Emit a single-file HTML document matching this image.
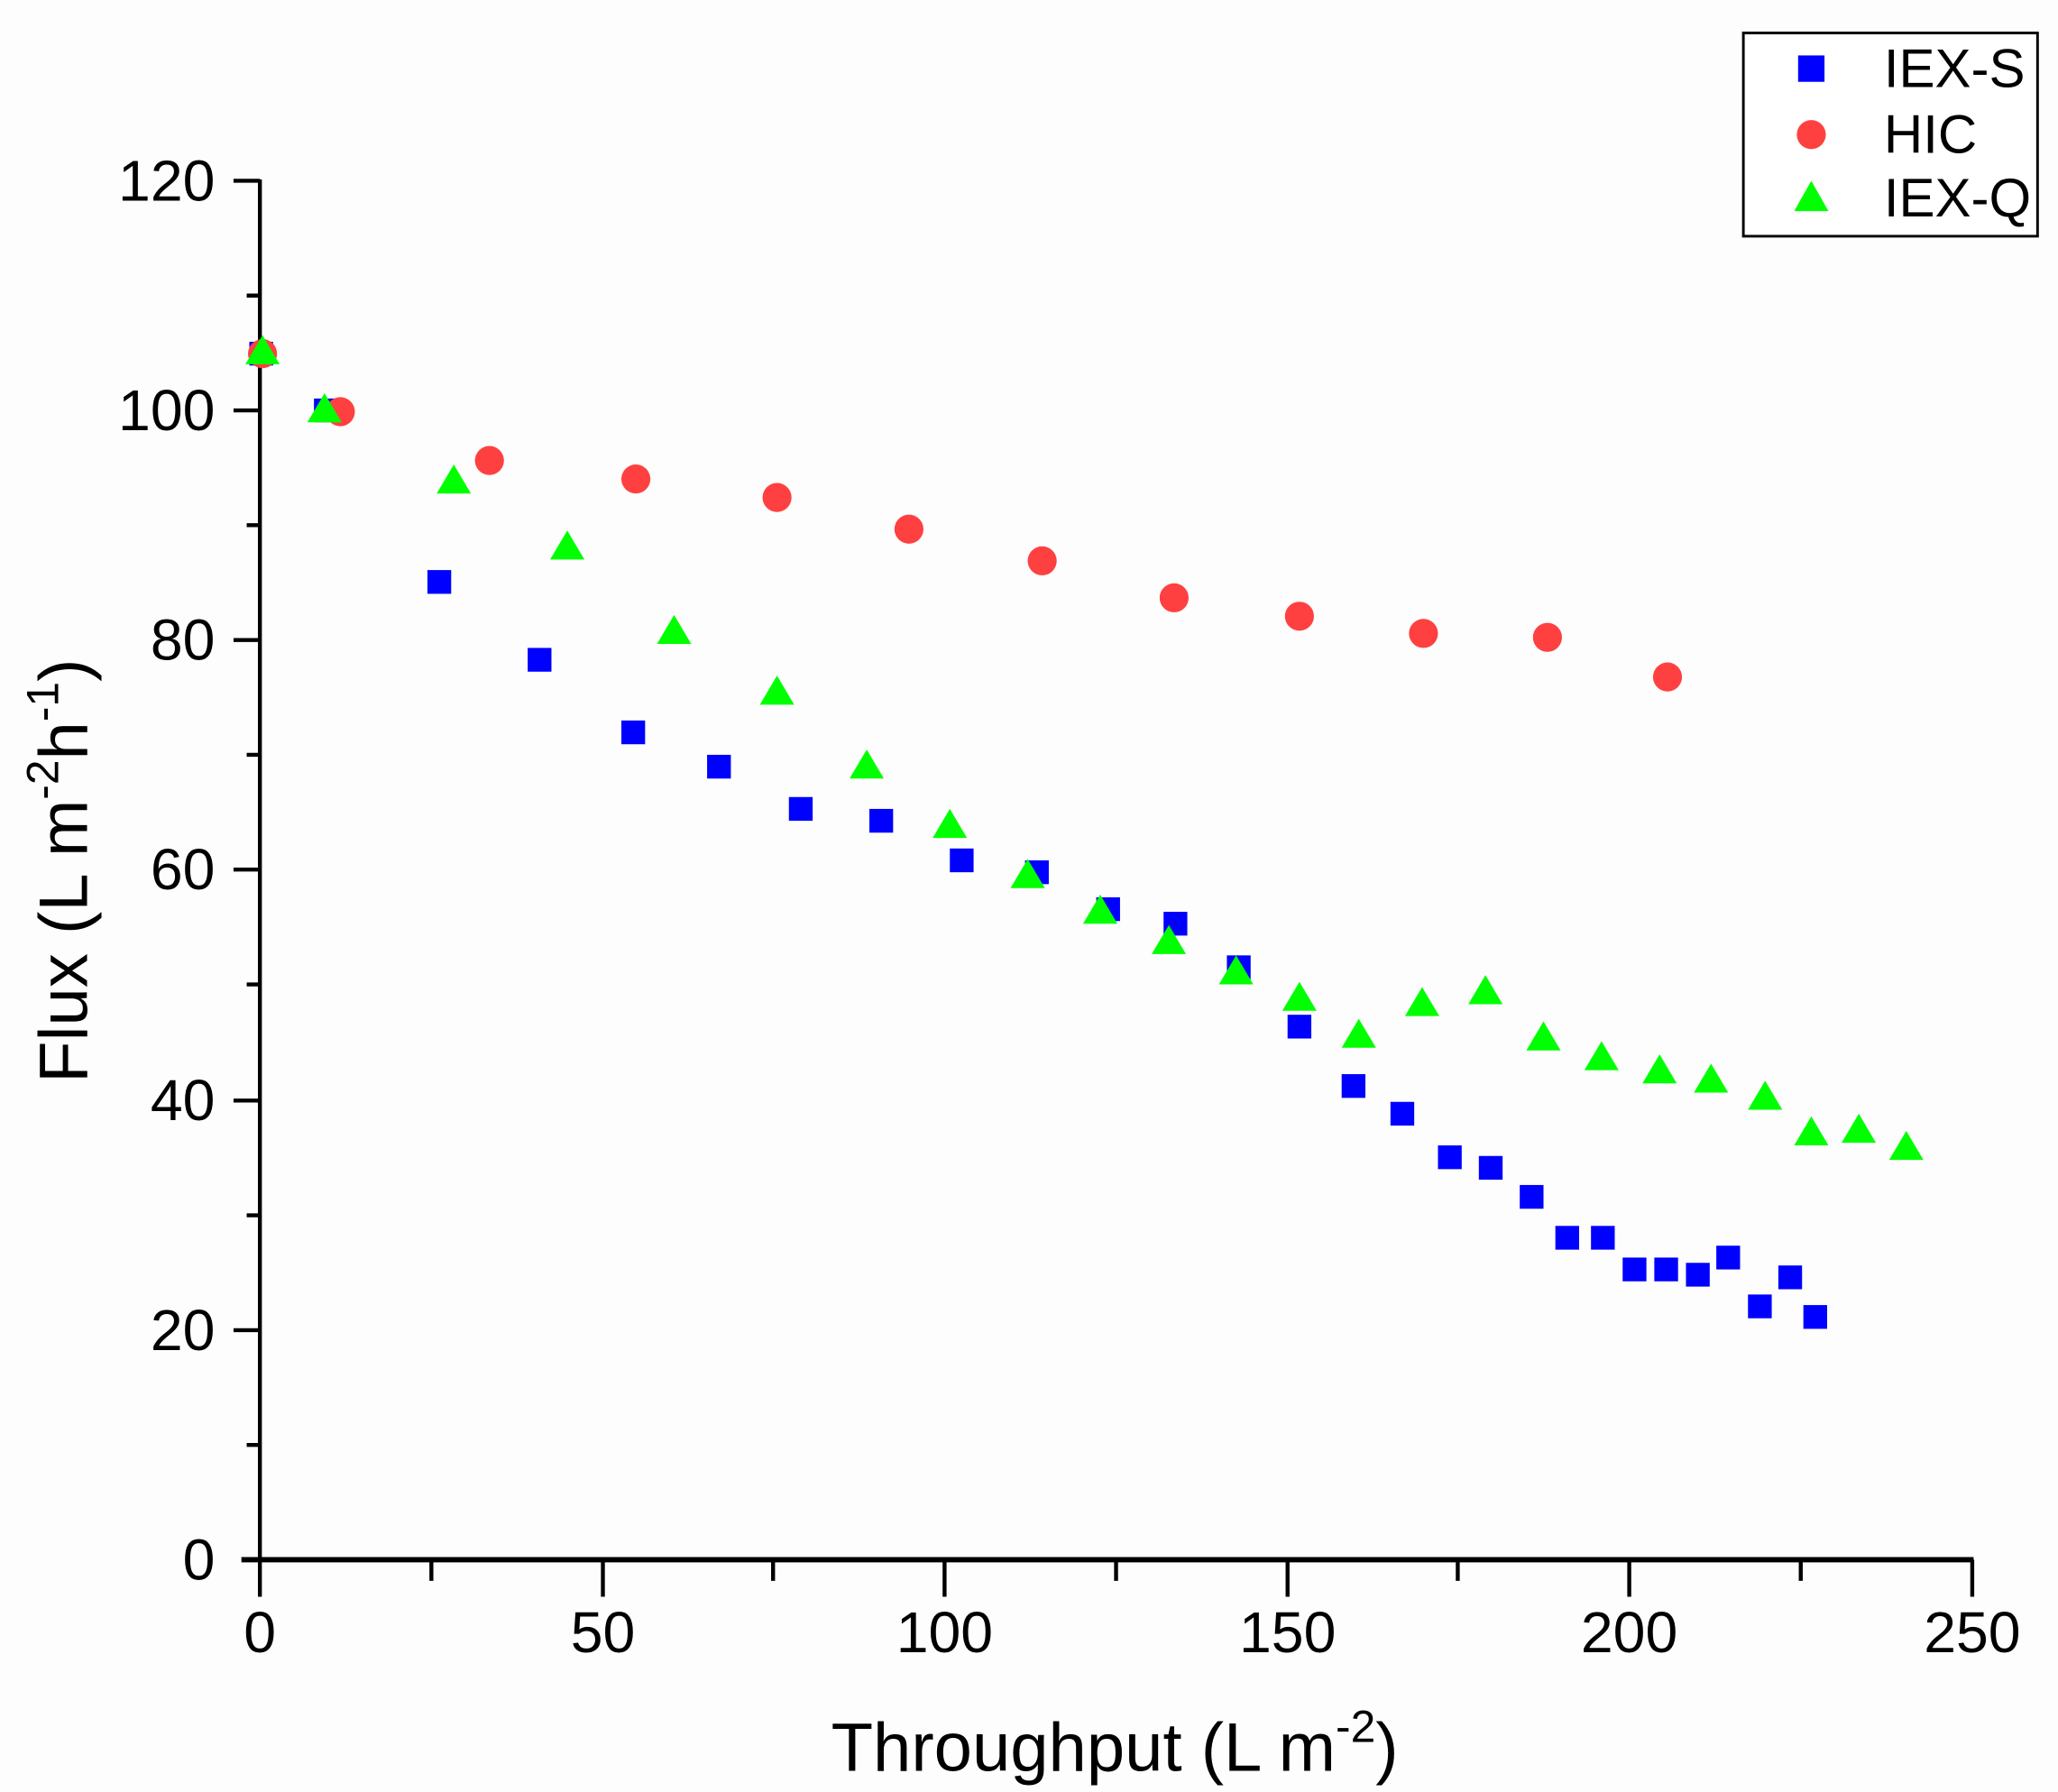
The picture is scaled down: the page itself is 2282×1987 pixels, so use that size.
<!DOCTYPE html>
<html><head><style>html,body{margin:0;padding:0;background:#fdfdfd}svg{display:block}</style></head>
<body>
<svg width="2282" height="1987" viewBox="0 0 1560 1358" preserveAspectRatio="none" xmlns="http://www.w3.org/2000/svg" font-family="Liberation Sans, Arial, sans-serif">
<rect width="1560" height="1358" fill="#fdfdfd"/>
<g stroke="#000" stroke-width="3" fill="none">
<line x1="197" y1="136" x2="197" y2="1183"/>
<line x1="183" y1="1182" x2="1496" y2="1182" stroke-width="4"/>
<path d="M177 137H197M177 311H197M177 485H197M177 659H197M177 834H197M177 1008H197M187 224H197M187 398H197M187 572H197M187 746H197M187 921H197M187 1095H197"/>
<path d="M197 1182V1210M457 1182V1210M716 1182V1210M976 1182V1210M1235 1182V1210M1495 1182V1210M327 1182V1198M586 1182V1198M846 1182V1198M1105 1182V1198M1365 1182V1198"/>
</g>
<g font-size="44" text-anchor="end" fill="#000">
<text x="163" y="152">120</text><text x="163" y="326">100</text><text x="163" y="500">80</text><text x="163" y="674">60</text><text x="163" y="849">40</text><text x="163" y="1023">20</text><text x="163" y="1197">0</text>
</g>
<g font-size="44" text-anchor="middle" fill="#000">
<text x="197" y="1252">0</text><text x="457" y="1252">50</text><text x="716" y="1252">100</text><text x="976" y="1252">150</text><text x="1235" y="1252">200</text><text x="1495" y="1252">250</text>
</g>
<text x="845" y="1342" font-size="52" text-anchor="middle">Throughput (L m<tspan dy="-22" font-size="34">-2</tspan><tspan dy="22">)</tspan></text>
<text transform="translate(66,660) rotate(-90)" font-size="52" text-anchor="middle">Flux (L m<tspan dy="-22" font-size="34">-2</tspan><tspan dy="22">h</tspan><tspan dy="-22" font-size="34">-1</tspan><tspan dy="22">)</tspan></text>
<g fill="#0000ff">
<rect x="189" y="259" width="18" height="18"/>
<rect x="238" y="302" width="18" height="18"/><rect x="324" y="432" width="18" height="18"/><rect x="400" y="491" width="18" height="18"/><rect x="471" y="546" width="18" height="18"/><rect x="536" y="572" width="18" height="18"/><rect x="598" y="604" width="18" height="18"/><rect x="659" y="613" width="18" height="18"/><rect x="720" y="643" width="18" height="18"/><rect x="777" y="652" width="18" height="18"/><rect x="831" y="680" width="18" height="18"/><rect x="882" y="691" width="18" height="18"/><rect x="930" y="724" width="18" height="18"/><rect x="976" y="769" width="18" height="18"/><rect x="1017" y="814" width="18" height="18"/><rect x="1054" y="835" width="18" height="18"/><rect x="1090" y="868" width="18" height="18"/><rect x="1121" y="876" width="18" height="18"/><rect x="1152" y="898" width="18" height="18"/><rect x="1179" y="929" width="18" height="18"/><rect x="1206" y="929" width="18" height="18"/><rect x="1230" y="953" width="18" height="18"/><rect x="1254" y="953" width="18" height="18"/><rect x="1278" y="957" width="18" height="18"/><rect x="1301" y="944" width="18" height="18"/><rect x="1325" y="981" width="18" height="18"/><rect x="1348" y="959" width="18" height="18"/><rect x="1367" y="989" width="18" height="18"/>
</g>
<g fill="#ff4040">
<circle cx="199" cy="268" r="11"/><circle cx="258" cy="312" r="11"/><circle cx="371" cy="349" r="11"/><circle cx="482" cy="363" r="11"/><circle cx="589" cy="377" r="11"/><circle cx="689" cy="401" r="11"/><circle cx="790" cy="425" r="11"/><circle cx="890" cy="453" r="11"/><circle cx="985" cy="467" r="11"/><circle cx="1079" cy="480" r="11"/><circle cx="1173" cy="483" r="11"/><circle cx="1264" cy="513" r="11"/>
</g>
<g fill="#00ff00" id="tri">
<path d="M199 254l13 22h-26z"/><path d="M246 298l13 22h-26z"/><path d="M344 352l13 22h-26z"/><path d="M430 402l13 22h-26z"/><path d="M511 466l13 22h-26z"/><path d="M589 512l13 22h-26z"/><path d="M657 568l13 22h-26z"/><path d="M720 613l13 22h-26z"/><path d="M779 651l13 22h-26z"/><path d="M834 678l13 22h-26z"/><path d="M886 701l13 22h-26z"/><path d="M937 724l13 22h-26z"/><path d="M985 744l13 22h-26z"/><path d="M1030 772l13 22h-26z"/><path d="M1078 748l13 22h-26z"/><path d="M1126 739l13 22h-26z"/><path d="M1170 774l13 22h-26z"/><path d="M1214 789l13 22h-26z"/><path d="M1258 799l13 22h-26z"/><path d="M1297 806l13 22h-26z"/><path d="M1338 819l13 22h-26z"/><path d="M1373 846l13 22h-26z"/><path d="M1409 844l13 22h-26z"/><path d="M1445 857l13 22h-26z"/>
</g>
<rect x="1321.5" y="25" width="223" height="154" fill="#fff" stroke="#000" stroke-width="2"/>
<rect x="1363" y="42" width="20" height="20" fill="#0000ff"/>
<circle cx="1373" cy="102" r="11" fill="#ff4040"/>
<path d="M1373 137l13 23h-26z" fill="#00ff00"/>
<g font-size="41" fill="#000"><text x="1428" y="66">IEX-S</text><text x="1428" y="116">HIC</text><text x="1428" y="164">IEX-Q</text></g>
</svg>
</body></html>
